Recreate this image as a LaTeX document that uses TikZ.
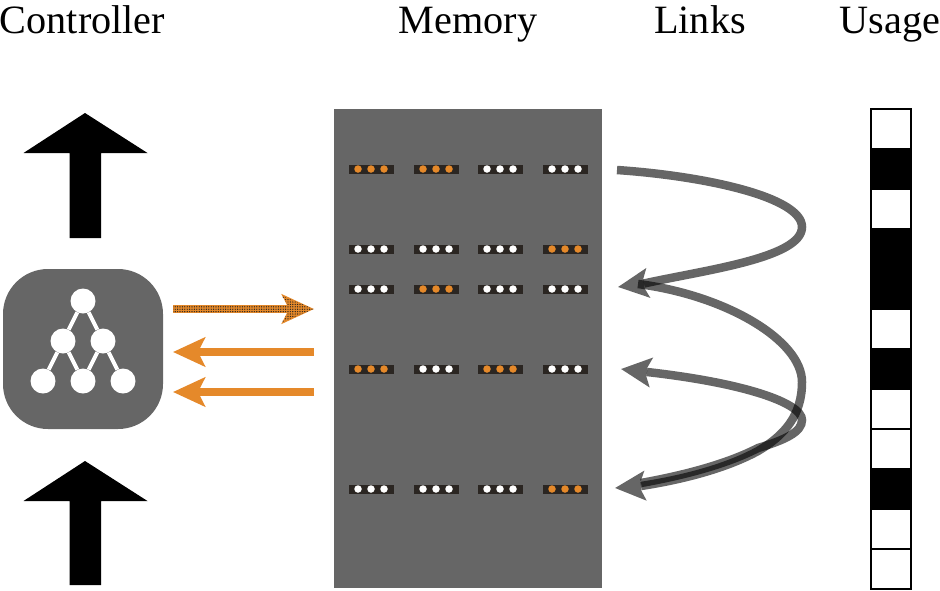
\documentclass[tikz,border=0pt]{standalone}
\usepackage{fontspec}
\setmainfont{Liberation Serif}
\usetikzlibrary{arrows.meta,patterns.meta}
\definecolor{slate}{HTML}{666666}
\definecolor{amber}{HTML}{E5892A}
\definecolor{slotbar}{HTML}{2B2622}
\tikzset{
    title/.style={anchor=base, font=\fontsize{40.2}{40.2}\selectfont},
    treedot/.style={circle, fill=white, inner sep=0pt, minimum size=25},
    slotdot/.style={circle, inner sep=0pt, minimum size=7.5},
    slotrow/.style={fill=slotbar, inner sep=0pt, minimum width=45, minimum height=9},
    usecell/.style={draw=black, line width=1.6, inner sep=0pt, minimum size=40},
    rw/.style={line width=8.5, amber, -{Stealth[length=32, width=29, inset=7]}},
    linkline/.style={line width=8.5, slate},
    linkhead/.style={line width=8.5, slate, -{Stealth[length=30, width=29, inset=6]}}
}
\begin{document}
\begin{tikzpicture}[x=1pt, y=-1pt]
\useasboundingbox (0,0) rectangle (940,590);

\node[title] (controller) at (82.5,33) {Controller};
\node[title] (memory) at (468,33) {Memory};
\node[title] (links) at (700,33) {Links};
\node[title] (usage) at (890,33) {Usage};

% input and output arrows
\fill (85,113)--(147.5,153)--(101,153)--(101,238)--(69.5,238)--(69.5,153)--(23.5,153)--cycle;
\fill (85,461)--(147.5,501)--(101,501)--(101,585)--(69.5,585)--(69.5,501)--(23.5,501)--cycle;

% controller
\node[fill=slate, rounded corners=45, inner sep=0pt, minimum size=160] (ctrl) at (83,349) {};
\node[treedot] (n1) at (83,301) {};
\node[treedot] (n2) at (63,341) {};
\node[treedot] (n3) at (103,341) {};
\node[treedot] (n4) at (43,381) {};
\node[treedot] (n5) at (83,381) {};
\node[treedot] (n6) at (123,381) {};
\draw[white, line width=4] (n1)--(n2) (n1)--(n3) (n2)--(n4) (n2)--(n5) (n3)--(n5) (n3)--(n6);

% read and write heads
\coordinate (wa) at (173,309);
\coordinate (wb) at (314,309);
\coordinate (ra) at (314,352);
\coordinate (rb) at (173,352);
\coordinate (sa) at (314,392);
\coordinate (sb) at (173,392);
\draw[rw] (wa)--(wb);
\fill[pattern={Dots[radius=.7, distance=2.4]}, pattern color=slotbar]
    (173,305)--(288,305)--(282,296)--(314,309)--(282,322)--(288,313)--(173,313)--cycle;
\draw[rw] (ra)--(rb);
\draw[rw] (sa)--(sb);

% memory
\node[fill=slate, inner sep=0pt, minimum width=268, minimum height=479] (mem) at (468,348.5) {};
\foreach \y/\p/\q/\s/\t in {169/amber/amber/white/white, 249/white/white/white/amber,
    289/white/amber/white/white, 369/amber/white/amber/white, 489/white/white/white/amber}
{
    \foreach \x/\c in {371/\p, 436/\q, 500/\s, 565/\t}
    {
        \node[slotrow] (slot\x\y) at (\x,\y) {};
        \foreach \d in {-13,0,13}
            \node[slotdot, fill=\c] at ([xshift=\d]slot\x\y) {};
    }
}

% links
\coordinate (la) at (617,170);
\coordinate (lb) at (644,283.5);
\coordinate (lbtip) at (618,287);
\coordinate (lc) at (638,284);
\coordinate (ld) at (641,486);
\coordinate (ldtip) at (615,488);
\coordinate (le) at (641,483);
\coordinate (lf) at (647,372);
\coordinate (lftip) at (621,369);
\coordinate (lg) at (758,451);
\coordinate (lh) at (758,448);
\draw[linkhead] (ld)--(ldtip);
\draw[linkhead] (lb)--(lbtip);
\draw[linkhead] (lf)--(lftip);
\begin{scope}[blend mode=multiply]
\draw[linkline] (la) .. controls (705,176) and (802,197) .. (802,227)
    .. controls (802,258) and (705,270) .. (lb);
\draw[linkline] (lc) .. controls (725,295) and (802,340) .. (802,382)
    .. controls (802,415) and (785,435) .. (lg)
    .. controls (725,469) and (680,480) .. (ld);
\draw[linkline] (le) .. controls (680,476) and (725,465) .. (lh)
    .. controls (785,440) and (802,432) .. (802,420)
    .. controls (802,403) and (745,383) .. (lf);
\end{scope}

% usage
\foreach \i/\c in {0/white,1/black,2/white,3/black,4/black,5/white,6/black,7/white,8/white,9/black,10/white,11/white}
    \node[usecell, fill=\c] (cell\i) at (891,129+40*\i) {};
\end{tikzpicture}
\end{document}
